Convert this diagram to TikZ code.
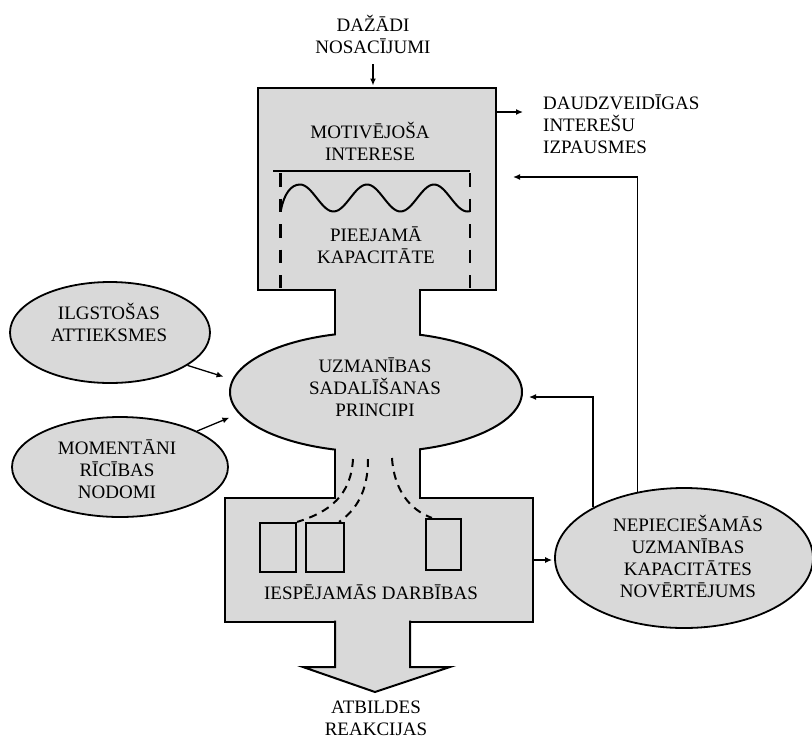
\documentclass[tikz,border=0pt]{standalone}
\usepackage{fontspec}
\setmainfont{Liberation Serif}
\usetikzlibrary{arrows.meta,shapes.geometric,calc}
\definecolor{panel}{RGB}{217,217,217}
\begin{document}
\begin{tikzpicture}[x=1pt,y=-1pt,
  outline/.style={rectangle,draw=black,line width=2pt,fill=panel,inner sep=0pt},
  oval/.style={ellipse,draw=black,line width=1.8pt,fill=panel,inner sep=0pt},
  smallbox/.style={rectangle,draw=black,line width=2.2pt,inner sep=0pt},
  txt/.style={font=\fontsize{19}{22}\selectfont,align=center,inner sep=0pt},
  arr/.style={line width=1.3pt,-{Latex[length=7pt,width=6pt]}},
  dashv/.style={line width=2.6pt,dash pattern=on 13.5pt off 12pt},
  dashc/.style={line width=2pt,dash pattern=on 8pt off 6pt},
]
\useasboundingbox (0,0) rectangle (812,740);

% main column: interest box, allocation ellipse, action box with output arrow
\node[outline,minimum width=238pt,minimum height=202pt] (mot) at (377,189) {};
\node[oval,line width=2pt,minimum width=292pt,minimum height=120pt] (udp) at (376,392) {};
\node[outline,minimum width=308pt,minimum height=124pt] (act) at (379,560) {};
\path[fill=panel,draw=black,line width=2pt,line join=miter]
  (335,620.5) -- (335,667) -- (303,667) -- (375,692) -- (450,667) -- (410,667) -- (410,620.5);

% necks joining the three parts
\fill[panel] (336,286) rectangle (419,342);
\fill[panel] (336,442) rectangle (419,500);
\draw[line width=2pt] (335,289) -- (335,334.4) (420,289) -- (420,334.8)
                      (335,449.6) -- (335,499) (420,449.2) -- (420,499);

% capacity drawing inside the top box
\draw[line width=2pt] (273,171) -- (470,171);
\draw[dashv] (280.5,173) -- (280.5,288);
\draw[dashv] (470,173) -- (470,288);
\draw[line width=2pt] (281,210) .. controls (284,194) and (291,184.5) .. (300,184.5)
  -- plot[domain=300:470,samples=80,smooth] (\x,{198-13.5*cos(5.373134*(\x-300))});

% possible actions
\node[smallbox,minimum width=36pt,minimum height=49pt] (r1) at (278,547.5) {};
\node[smallbox,minimum width=38pt,minimum height=49pt] (r2) at (325,547.5) {};
\node[smallbox,minimum width=35pt,minimum height=51pt] (r3) at (443.5,544.5) {};
\coordinate (s1) at (353,459);
\coordinate (s2) at (368,459);
\coordinate (s3) at (392,458);
\draw[dashc] (s1) .. controls (351,495) and (330,512) .. (r1.north east);
\draw[dashc] (s2) .. controls (368,492) and (356,510) .. ([xshift=-6pt]r2.north east);
\draw[dashc] (s3) .. controls (394,490) and (410,510) .. ([xshift=7pt]r3.north west);

% side ellipses
\node[oval,minimum width=200pt,minimum height=101pt] (ilg) at (110,332.5) {};
\node[oval,minimum width=216pt,minimum height=100pt] (mom) at (120,467) {};
\node[oval,minimum width=258pt,minimum height=140pt] (nep) at (684,558) {};

% texts
\node[txt] (dn) at (373,34) {DAŽĀDI\\NOSACĪJUMI};
\node[txt,anchor=west,align=left] (dg) at (543,124) {DAUDZVEIDĪGAS\\INTEREŠU\\IZPAUSMES};
\node[txt] (mott) at (370,141) {MOTIVĒJOŠA\\INTERESE};
\node[txt] (piet) at (376,245) {PIEEJAMĀ\\KAPACITĀTE};
\node[txt] (udpt) at (375,387) {UZMANĪBAS\\SADALĪŠANAS\\PRINCIPI};
\node[txt] (actt) at (371,592) {IESPĒJAMĀS DARBĪBAS};
\node[txt] (atb) at (376,718) {ATBILDES\\REAKCIJAS};
\node[txt] (ilgt) at (109,322) {ILGSTOŠAS\\ATTIEKSMES};
\node[txt] (momt) at (117,469) {MOMENTĀNI\\RĪCĪBAS\\NODOMI};
\node[txt] (nept) at (688,556.5) {NEPIECIEŠAMĀS\\UZMANĪBAS\\KAPACITĀTES\\NOVĒRTĒJUMS};

% connectors
\draw[arr,shorten <=11pt,shorten >=1.5pt] (dn.south) -- (dn.south |- mot.north);
\draw[arr,shorten >=20pt] ([yshift=-25pt]mot.north east) -- ([yshift=-25pt]mot.north east -| dg.west);
\draw[arr] (nep.125.1) |- ([xshift=16pt,yshift=12pt]mot.east);
\draw[arr] (nep.151.4) |- ([xshift=6pt,yshift=-5pt]udp.east);
\draw[arr,shorten >=2pt] (act.east) -- (act.east -| nep.west);
\draw[arr,shorten >=9pt] (ilg.-23.3) -- (udp.175.6);
\draw[arr,shorten >=10pt] (mom.25.3) -- (udp.-171.3);
\end{tikzpicture}
\end{document}
